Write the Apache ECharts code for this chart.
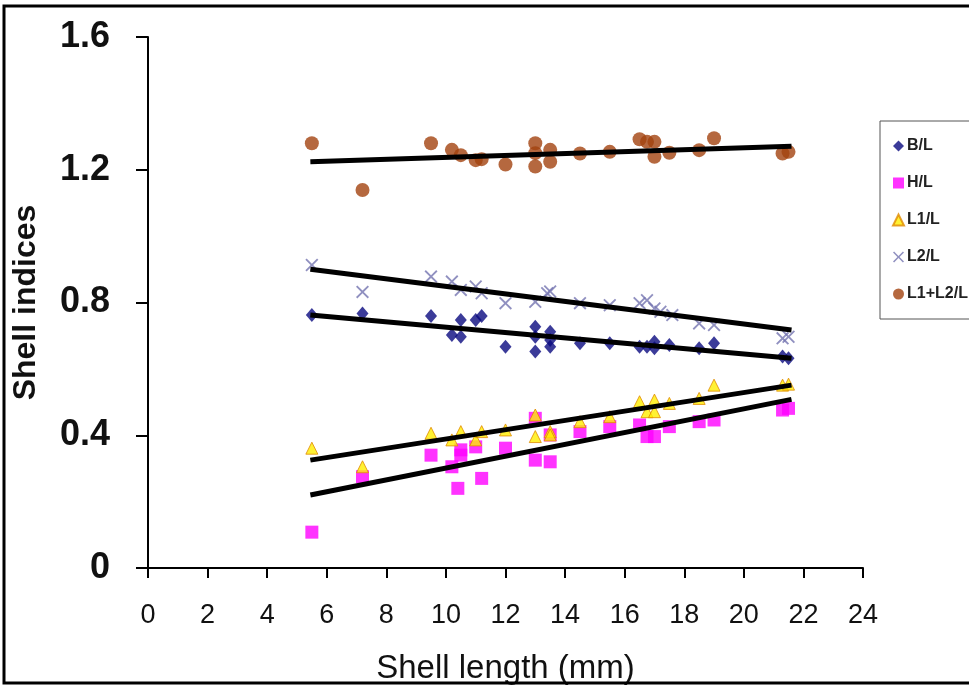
<!DOCTYPE html>
<html>
<head>
<meta charset="utf-8">
<script src="https://cdn.jsdelivr.net/npm/echarts@6/dist/echarts.min.js"></script>
<style>html,body{margin:0;padding:0;background:#fff;}#c{width:969px;height:686px;}</style>
</head>
<body>
<div id="c"></div>
<script>
// ---- data ----
const xTicks = [0, 2, 4, 6, 8, 10, 12, 14, 16, 18, 20, 22, 24];
const yTicks = [0, 0.4, 0.8, 1.2, 1.6];

const bl_x = [5.5, 7.2, 9.5, 10.2, 10.5, 10.5, 11.0, 11.2, 12.0, 13.0, 13.0, 13.0, 13.5, 13.5, 13.5, 14.5, 15.5, 16.5, 16.75, 17.0, 17.0, 17.5, 18.5, 19.0, 21.3, 21.5];
const bl_y = [0.762, 0.767, 0.759, 0.702, 0.697, 0.747, 0.747, 0.759, 0.667, 0.727, 0.697, 0.652, 0.712, 0.687, 0.667, 0.677, 0.677, 0.667, 0.667, 0.682, 0.662, 0.672, 0.662, 0.677, 0.637, 0.632];

const hl_x = [5.5, 7.2, 9.5, 10.2, 10.5, 10.5, 10.4, 11.0, 11.2, 12.0, 13.0, 13.0, 13.5, 13.5, 14.5, 15.5, 16.5, 16.75, 17.0, 17.5, 18.5, 19.0, 21.3, 21.5];
const hl_y = [0.108, 0.275, 0.340, 0.305, 0.356, 0.340, 0.240, 0.365, 0.270, 0.361, 0.325, 0.451, 0.320, 0.401, 0.411, 0.426, 0.431, 0.396, 0.396, 0.426, 0.441, 0.446, 0.476, 0.481];

const l1_x = [5.5, 7.2, 9.5, 10.2, 10.5, 11.0, 11.2, 12.0, 13.0, 13.0, 13.5, 13.5, 14.5, 15.5, 16.5, 16.75, 17.0, 17.0, 17.5, 18.5, 19.0, 21.3, 21.5];
const l1_y = [0.361, 0.305, 0.406, 0.386, 0.411, 0.386, 0.411, 0.416, 0.461, 0.396, 0.411, 0.401, 0.441, 0.456, 0.501, 0.471, 0.506, 0.471, 0.496, 0.511, 0.551, 0.551, 0.554];

const l2_x = [5.5, 7.2, 9.5, 10.2, 10.5, 11.0, 11.2, 12.0, 13.0, 13.4, 13.5, 14.5, 15.5, 16.5, 16.75, 17.0, 17.2, 17.6, 18.5, 19.0, 21.3, 21.5];
const l2_y = [0.913, 0.832, 0.878, 0.863, 0.838, 0.848, 0.828, 0.798, 0.802, 0.828, 0.833, 0.798, 0.792, 0.798, 0.807, 0.782, 0.772, 0.762, 0.737, 0.732, 0.692, 0.697];

const sum_x = [5.5, 7.2, 9.5, 10.2, 10.5, 11.0, 11.2, 12.0, 13.0, 13.0, 13.0, 13.5, 13.5, 14.5, 15.5, 16.5, 16.75, 17.0, 17.0, 17.5, 18.5, 19.0, 21.3, 21.5];
const sum_y = [1.280, 1.139, 1.280, 1.260, 1.244, 1.229, 1.232, 1.216, 1.280, 1.250, 1.210, 1.260, 1.224, 1.249, 1.254, 1.292, 1.284, 1.284, 1.239, 1.251, 1.259, 1.295, 1.249, 1.254];

// trend line end points (x, y)
const trend_x = [5.45, 21.6];
const trend_bl = [0.762, 0.632];
const trend_hl = [0.220, 0.508];
const trend_l1 = [0.325, 0.551];
const trend_l2 = [0.900, 0.717];
const trend_sum = [1.224, 1.271];

const names = ['B/L', 'H/L', 'L1/L', 'L2/L', 'L1+L2/L'];

// ---- build ----
const zip = (xs, ys) => xs.map((x, i) => [x, ys[i]]);
const crossPath = 'path://M0,1L1,0L5,4L9,0L10,1L6,5L10,9L9,10L5,6L1,10L0,9L4,5Z';

const chart = echarts.init(document.getElementById('c'), null, {renderer: 'canvas'});
const trendSeries = (ys) => ({
  type: 'line', data: zip(trend_x, ys), symbol: 'none', silent: true, z: 5,
  lineStyle: {color: '#000', width: 5}, legendHoverLink: false
});

chart.setOption({
  animation: false,
  backgroundColor: '#fff',
  graphic: [{
    type: 'rect', shape: {x: 4, y: 6, width: 1000, height: 677},
    style: {fill: 'none', stroke: '#000', lineWidth: 3}, z: 100
  }],
  grid: {left: 148, right: 106, top: 37, bottom: 118, containLabel: false, outerBoundsMode: 'none'},
  xAxis: {
    type: 'value', min: xTicks[0], max: xTicks[xTicks.length - 1], interval: 2,
    splitLine: {show: false},
    axisLine: {show: true, onZero: false, lineStyle: {color: '#000', width: 2}},
    axisTick: {show: true, length: 10, lineStyle: {color: '#000', width: 2}},
    axisLabel: {fontFamily: 'Liberation Sans', fontSize: 27, color: '#111', margin: 34},
    name: 'Shell length (mm)', nameLocation: 'middle', nameGap: 84,
    nameTextStyle: {fontFamily: 'Liberation Sans', fontSize: 33, color: '#111'}
  },
  yAxis: {
    type: 'value', min: yTicks[0], max: yTicks[yTicks.length - 1], interval: 0.4,
    splitLine: {show: false},
    axisLine: {show: true, onZero: false, lineStyle: {color: '#000', width: 2}},
    axisTick: {show: true, length: 12, lineStyle: {color: '#000', width: 2}},
    axisLabel: {fontFamily: 'Liberation Sans', fontSize: 36, fontWeight: 'bold', color: '#111', margin: 38,
      formatter: v => v === 0 ? '0' : v.toFixed(1)},
    name: 'Shell indices', nameLocation: 'middle', nameGap: 106, nameRotate: 90,
    nameTextStyle: {fontFamily: 'Liberation Sans', fontSize: 32, fontWeight: 'bold', color: '#111'}
  },
  legend: {
    orient: 'vertical', left: 880, top: 121,
    data: names,
    itemWidth: 11, itemHeight: 11, itemGap: 21,
    padding: [17, 60, 17, 12],
    borderColor: '#555', borderWidth: 1, backgroundColor: '#fff',
    textStyle: {fontFamily: 'Liberation Sans', fontSize: 16, fontWeight: 'bold', color: '#222', padding: [0, 0, 0, -2]}
  },
  series: [
    {name: names[0], type: 'scatter', data: zip(bl_x, bl_y), symbol: 'diamond', symbolSize: [12, 14],
     itemStyle: {color: '#0a0a80'}},
    {name: names[1], type: 'scatter', data: zip(hl_x, hl_y), symbol: 'rect', symbolSize: 13,
     itemStyle: {color: '#ff00ff'}},
    {name: names[2], type: 'scatter', data: zip(l1_x, l1_y), symbol: 'triangle', symbolSize: 12,
     itemStyle: {color: '#ffee00', borderColor: '#e08a00', borderWidth: 1}},
    {name: names[3], type: 'scatter', data: zip(l2_x, l2_y), symbol: crossPath, symbolSize: 13,
     itemStyle: {color: '#7474b0'}},
    {name: names[4], type: 'scatter', data: zip(sum_x, sum_y), symbol: 'circle', symbolSize: 14,
     itemStyle: {color: '#a3420f'}},
    trendSeries(trend_bl), trendSeries(trend_hl), trendSeries(trend_l1), trendSeries(trend_l2), trendSeries(trend_sum)
  ]
});
</script>
</body>
</html>
